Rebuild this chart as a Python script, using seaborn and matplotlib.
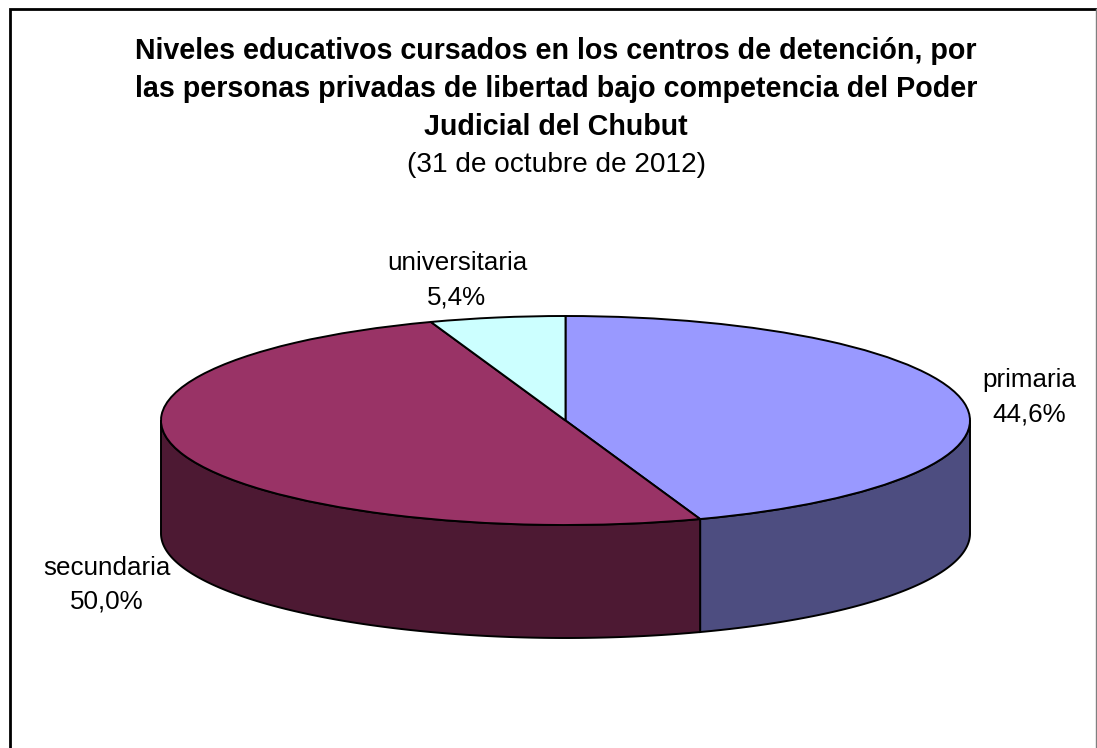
import numpy as np
import matplotlib
matplotlib.use("Agg")
import matplotlib.pyplot as plt
import seaborn as sns

# =============================
# DATA
# =============================
categories = ["primaria", "secundaria", "universitaria"]
values = [44.6, 50.0, 5.4]
value_labels = ["44,6%", "50,0%", "5,4%"]
top_colors = ["#9999FF", "#993366", "#CCFFFF"]
side_colors = ["#4D4D80", "#4D1933", "#668080"]

title_lines = ["Niveles educativos cursados en los centros de detención, por",
               "las personas privadas de libertad bajo competencia del Poder",
               "Judicial del Chubut"]
subtitle = "(31 de octubre de 2012)"

# =============================
# LAYOUT (pixels of the picture)
# =============================
W, H = 1097, 748
RX = 404.5
RY = 104.5
SQUASH = RX / RY      # circle -> ellipse
CX, CY = 565.5, 420.5
DEPTH = 113


def py(y):
    return (H - y) * SQUASH


sns.set_theme(style="white")
plt.rcParams["font.family"] = ["Liberation Sans", "DejaVu Sans"]

fig = plt.figure(figsize=(W / 100, H / 100), dpi=100)
ax = fig.add_axes([0, 0, 1, 1])

# =============================
# TOP OF THE PIE
# =============================
ax.pie(values, colors=top_colors, startangle=90, counterclock=False,
       center=(CX, py(CY)), radius=RX,
       wedgeprops=dict(edgecolor="black", linewidth=1.4, zorder=3))
ax.set_aspect("auto")
ax.set_xlim(0, W)
ax.set_ylim(0, H * SQUASH)
ax.axis("off")

# =============================
# SIDE WALL (front half only)
# =============================
edges = np.cumsum([0] + values) / sum(values) * 2 * np.pi
for i in range(len(values)):
    a = max(edges[i], np.pi / 2)
    b = min(edges[i + 1], 3 * np.pi / 2)
    if b <= a:
        continue
    t = np.linspace(a, b, 200)
    x = CX + RX * np.sin(t)
    y_top = CY - RY * np.cos(t)
    px = np.r_[x, x[::-1]]
    pys = np.r_[y_top, y_top[::-1] + DEPTH]
    ax.fill(px, py(pys), facecolor=side_colors[i], edgecolor="black",
            linewidth=1.4, zorder=2)

# =============================
# FRAME
# =============================
ax.plot([9.5, 9.5, 1096], [0, py(9), py(9)], color="black", lw=2, zorder=1,
        solid_joinstyle="miter")
ax.plot([1096, 1096], [py(9), 0], color="#808080", lw=1, zorder=1)

# =============================
# TEXT
# =============================
for line, y in zip(title_lines, [59, 97, 135]):
    ax.text(556, py(y), line, ha="center", va="baseline", fontsize=20.6,
            fontweight="bold", color="black")
ax.text(556.5, py(172), subtitle, ha="center", va="baseline", fontsize=20.2, color="black")

label_pos = [(1029, 387), (107, 575), (457, 270)]
for name, val, (lx, ly) in zip(categories, value_labels, label_pos):
    ax.text(lx, py(ly), name, ha="center", va="baseline", fontsize=18.7,
            color="black", zorder=5)
    ax.text(lx, py(ly + 34), val, ha="center", va="baseline", fontsize=18.7,
            color="black", zorder=5)

fig.savefig("out.png", dpi=100)
